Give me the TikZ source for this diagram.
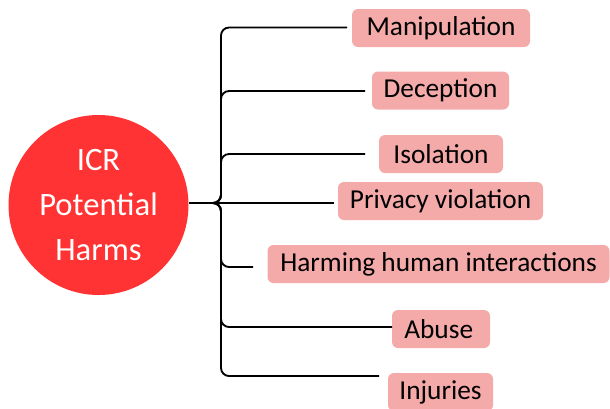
\documentclass[tikz,border=0pt]{standalone}
\usepackage{fontspec}
\setmainfont{Carlito}
\definecolor{harmred}{RGB}{255,51,51}
\definecolor{harmpink}{RGB}{245,170,170}
\begin{document}
\begin{tikzpicture}[x=0.75pt,y=-0.75pt,
  hub/.style={circle, fill=harmred, draw=none, minimum size=135pt, inner sep=0pt,
    text=white, align=center, font=\fontsize{24.5}{34}\selectfont},
  harm/.style={fill=harmpink, rounded corners=4.5pt, minimum height=28.5pt,
    inner sep=0pt, font=\fontsize{20.5}{24}\selectfont},
  link/.style={line width=1.4pt},
  branch/.style={link, rounded corners=6pt}]
\useasboundingbox (0,0) rectangle (610,408);

% central topic
\node[hub] (hub) at (98.5,205) {ICR\\Potential\\Harms};

% harm categories
\node[harm, minimum width=133.5pt]  (manip)   at (441,28)    {Manipulation};
\node[harm, minimum width=102.75pt] (decep)   at (440.5,90.5) {Deception};
\node[harm, minimum width=93pt]     (isol)    at (441,154)   {Isolation};
\node[harm, minimum width=153.75pt] (privacy) at (440.5,201) {Privacy violation};
\node[harm, minimum width=256.5pt]  (harming) at (438.5,264) {Harming human interactions};
\node[harm, minimum width=73.5pt]   (abuse)   at (441,329)   {Abuse\,};
\node[harm, minimum width=78.75pt]  (injury)  at (440.5,392) {Injuries};

% branch junction, spine and free ends of the branches
\coordinate (J) at (213,203);
\coordinate (spine) at (221,0);
\coordinate (e1) at (347,27.5);
\coordinate (e2) at (365,91);
\coordinate (e3) at (365,154);
\coordinate (e4) at (334,203);
\coordinate (e5) at (253,267);
\coordinate (e6) at (392,327);
\coordinate (e7) at (379,376);

% stem from the circle straight through to the middle branch
\draw[link] (hub.east |- e4) -- (e4);

% curved branches off the spine
\foreach \e in {e1,e2,e3,e5,e6,e7}
  \draw[branch] (J) -- (J -| spine) -- (spine |- \e) -- (\e);
\end{tikzpicture}
\end{document}
